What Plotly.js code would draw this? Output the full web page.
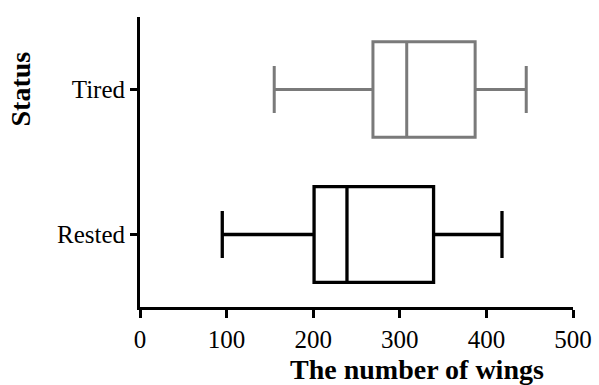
<!DOCTYPE html>
<html>
<head>
<meta charset="utf-8">
<script src="https://cdn.plot.ly/plotly-3.0.1.min.js"></script>
<style>html,body{margin:0;padding:0;background:#fff;}#chart{width:599px;height:385px;}</style>
</head>
<body>
<div id="chart"></div>
<script>
// Data
const categories = ['Rested', 'Tired'];
const restedStats = { lowerfence: 95, q1: 201, median: 239, q3: 339, upperfence: 418 };
const tiredStats  = { lowerfence: 155, q1: 269, median: 308, q3: 387, upperfence: 446 };
const xTickVals = [0, 100, 200, 300, 400, 500];
const xTitle = 'The number of wings';
const yTitle = 'Status';

function boxTrace(name, stats, color, lw) {
  return {
    type: 'box', orientation: 'h', name: name,
    y: [name],
    lowerfence: [stats.lowerfence], q1: [stats.q1], median: [stats.median],
    q3: [stats.q3], upperfence: [stats.upperfence],
    line: { color: color, width: lw },
    fillcolor: 'rgba(255,255,255,0)',
    width: 0.66, whiskerwidth: 0.49,
    boxpoints: false, hoverinfo: 'x'
  };
}

const data = [
  boxTrace(categories[0], restedStats, '#000000', 3.3),
  boxTrace(categories[1], tiredStats, '#7a7a7a', 3)
];

const serif = 'Liberation Serif, Times New Roman, serif';
const layout = {
  width: 599, height: 385,
  margin: { l: 140, r: 26, t: 17, b: 78 },
  paper_bgcolor: '#fff', plot_bgcolor: '#fff',
  showlegend: false,
  font: { family: serif, color: '#000', size: 25 },
  xaxis: {
    range: [0, 500], tickvals: xTickVals, ticktext: xTickVals.map(String),
    showgrid: false, zeroline: false, showline: true, linecolor: '#000', linewidth: 3,
    ticks: 'outside', ticklen: 8, tickwidth: 3, tickcolor: '#000',
    tickfont: { family: serif, size: 25, color: '#000' }, fixedrange: true
  },
  yaxis: {
    type: 'category', categoryorder: 'array', categoryarray: categories,
    range: [-0.5, 1.5],
    showgrid: false, zeroline: false, showline: true, linecolor: '#000', linewidth: 3,
    ticks: 'outside', ticklen: 7, tickwidth: 3, tickcolor: '#000',
    tickfont: { family: serif, size: 25, color: '#000' }, fixedrange: true
  },
  annotations: [
    { text: '<b>' + xTitle + '</b>', xref: 'paper', yref: 'paper', x: 0.64, y: 0, yshift: -62,
      xanchor: 'center', yanchor: 'middle', showarrow: false,
      font: { family: serif, size: 28, color: '#000' } },
    { text: '<b>' + yTitle + '</b>', xref: 'paper', yref: 'paper', xanchor: 'center', yanchor: 'middle',
      x: 0, xshift: -120, y: 0.75, textangle: -90, showarrow: false,
      font: { family: serif, size: 28, color: '#000' } }
  ]
};

Plotly.newPlot('chart', data, layout, { displayModeBar: false, staticPlot: true });
</script>
</body>
</html>
